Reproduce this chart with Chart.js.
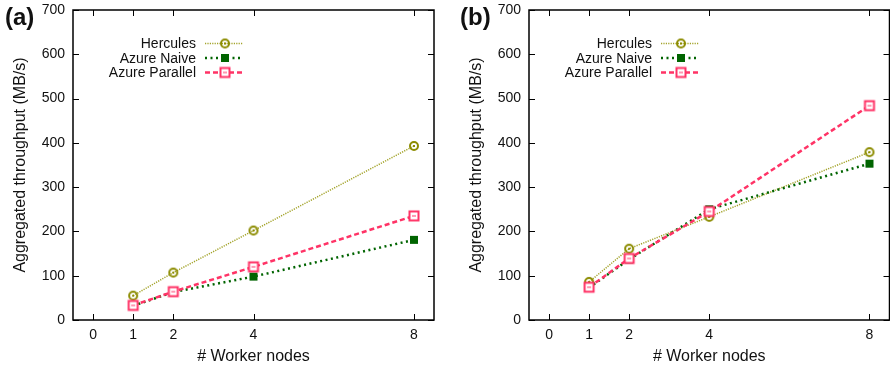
<!DOCTYPE html>
<html>
<head>
<meta charset="utf-8">
<script src="https://cdn.jsdelivr.net/npm/chart.js@4"></script>
<style>
  body { margin: 0; background: #fff; width: 890px; height: 366px; overflow: hidden; position: relative; font-family: "Liberation Sans", Arial, sans-serif; }
  .panel { position: absolute; top: 0; height: 366px; }
  .tag { position: absolute; top: 5px; font-size: 24px; font-weight: bold; line-height: 1; color: #111; }
</style>
</head>
<body>
<div class="panel" style="left:0;width:445px"><canvas id="chartA"></canvas></div>
<div class="panel" style="left:456px;width:441px"><canvas id="chartB"></canvas></div>
<div class="tag" style="left:5px">(a)</div>
<div class="tag" style="left:460px">(b)</div>
<script>
// data
const workers = [1, 2, 4, 8];
const xTicks = [0, 1, 2, 4, 8];
const yTicks = [0, 100, 200, 300, 400, 500, 600, 700];
const seriesNames = ['Hercules', 'Azure Naive', 'Azure Parallel'];

const herculesA = [55, 107, 202, 393];
const naiveA = [32, 63, 98, 181];
const parallelA = [33, 64, 120, 235];

const herculesB = [86, 161, 233, 379];
const naiveB = [73, 137, 250, 353];
const parallelB = [74, 139, 245, 484];

const OLIVE = '#8c8c00';
const OLIVE_LINE = '#a3a32a';
const GREEN = '#006400';
const PINK = '#ff3366';

// little marker images, gnuplot style
function marker(kind) {
  const c = document.createElement('canvas');
  c.width = 14; c.height = 14;
  const g = c.getContext('2d');
  if (kind === 'circle') {
    g.strokeStyle = OLIVE; g.lineWidth = 2;
    g.beginPath(); g.arc(7, 7, 4, 0, Math.PI * 2); g.stroke();
    g.fillStyle = OLIVE; g.fillRect(6, 6, 2, 2);
  } else if (kind === 'filled') {
    g.fillStyle = GREEN; g.fillRect(3, 3, 8, 8);
  } else {
    g.fillStyle = '#fff'; g.fillRect(2, 2, 10, 10);
    g.strokeStyle = PINK; g.lineWidth = 2;
    g.strokeRect(2.5, 2.5, 9, 9);
    g.fillStyle = PINK; g.fillRect(5, 6.5, 4, 1);
  }
  return c;
}
const markers = [marker('circle'), marker('filled'), marker('open')];

function datasets(h, n, p) {
  return [
    { label: seriesNames[0], data: workers.map((x, i) => ({ x: x, y: h[i] })), borderColor: OLIVE_LINE, borderWidth: 1.5, borderDash: [1.2, 1.2], pointStyle: markers[0], order: 3 },
    { label: seriesNames[1], data: workers.map((x, i) => ({ x: x, y: n[i] })), borderColor: GREEN, borderWidth: 2.5, borderDash: [2, 3.5], pointStyle: markers[1], order: 2 },
    { label: seriesNames[2], data: workers.map((x, i) => ({ x: x, y: p[i] })), borderColor: PINK, borderWidth: 2.5, borderDash: [5, 3], pointStyle: markers[2], order: 1 }
  ];
}

// inside tick marks on all four sides
const insideTicks = {
  id: 'insideTicks',
  afterDraw(chart) {
    const { ctx, chartArea: a, scales } = chart;
    ctx.save();
    ctx.strokeStyle = '#000';
    ctx.lineWidth = 1;
    ctx.beginPath();
    xTicks.forEach(v => {
      const px = Math.round(scales.x.getPixelForValue(v)) + 0.5;
      ctx.moveTo(px, a.bottom); ctx.lineTo(px, a.bottom - 6);
      ctx.moveTo(px, a.top); ctx.lineTo(px, a.top + 6);
    });
    yTicks.forEach(v => {
      const py = Math.round(scales.y.getPixelForValue(v)) + 0.5;
      ctx.moveTo(a.left, py); ctx.lineTo(a.left + 6, py);
      ctx.moveTo(a.right, py); ctx.lineTo(a.right - 6, py);
    });
    ctx.stroke();
    ctx.lineWidth = 1.5;
    ctx.strokeRect(a.left, a.top, a.right - a.left, a.bottom - a.top);
    ctx.restore();
  }
};

// key in the upper left: text right aligned, sample line after it
const keyBox = {
  id: 'keyBox',
  afterDatasetsDraw(chart) {
    const { ctx, chartArea: a } = chart;
    const textRight = a.left + 123;
    const rows = [43.5, 58, 72.5];
    ctx.save();
    ctx.font = '14px "Liberation Sans", Arial, sans-serif';
    ctx.textAlign = 'right';
    ctx.textBaseline = 'middle';
    chart.data.datasets.forEach((ds, i) => {
      const y = rows[i];
      ctx.fillStyle = '#111';
      ctx.fillText(ds.label, textRight, y + 1);
      ctx.strokeStyle = ds.borderColor;
      ctx.lineWidth = ds.borderWidth;
      ctx.setLineDash(ds.borderDash);
      ctx.beginPath();
      ctx.moveTo(textRight + 9, y); ctx.lineTo(textRight + 47, y);
      ctx.stroke();
      ctx.setLineDash([]);
      ctx.drawImage(ds.pointStyle, textRight + 29 - 7, y - 7);
    });
    ctx.restore();
  }
};

function makeChart(id, h, n, p, padRight) {
  return new Chart(document.getElementById(id), {
    type: 'line',
    data: { datasets: datasets(h, n, p) },
    options: {
      responsive: true,
      maintainAspectRatio: false,
      animation: false,
      layout: { padding: { top: 10, right: padRight, left: 0, bottom: 0 } },
      plugins: { legend: { display: false }, tooltip: { enabled: false } },
      elements: { line: { tension: 0, fill: false }, point: { radius: 5 } },
      scales: {
        x: {
          type: 'linear', min: -0.5, max: 8.5,
          afterBuildTicks: s => { s.ticks = xTicks.map(v => ({ value: v })); },
          afterFit: s => { s.height = 46; s.paddingLeft = 0; s.paddingRight = 0; },
          grid: { display: false, drawTicks: false },
          border: { display: false },
          ticks: { color: '#111', padding: 7, font: { size: 14, family: '"Liberation Sans", Arial' } },
          title: { display: true, text: '# Worker nodes', color: '#111', padding: { top: 0, bottom: 0 }, font: { size: 16, family: '"Liberation Sans", Arial' } }
        },
        y: {
          min: 0, max: 700,
          afterBuildTicks: s => { s.ticks = yTicks.map(v => ({ value: v })); },
          afterFit: s => { s.width = 73; s.paddingTop = 0; s.paddingBottom = 0; },
          grid: { display: false, drawTicks: false },
          border: { display: false },
          ticks: { color: '#111', padding: 8, font: { size: 14, family: '"Liberation Sans", Arial' } },
          title: { display: true, text: 'Aggregated throughput (MB/s)', color: '#111', padding: { top: 11, bottom: 0 }, font: { size: 16, family: '"Liberation Sans", Arial' } }
        }
      }
    },
    plugins: [insideTicks, keyBox]
  });
}

makeChart('chartA', herculesA, naiveA, parallelA, 11);
makeChart('chartB', herculesB, naiveB, parallelB, 1);
</script>
</body>
</html>
